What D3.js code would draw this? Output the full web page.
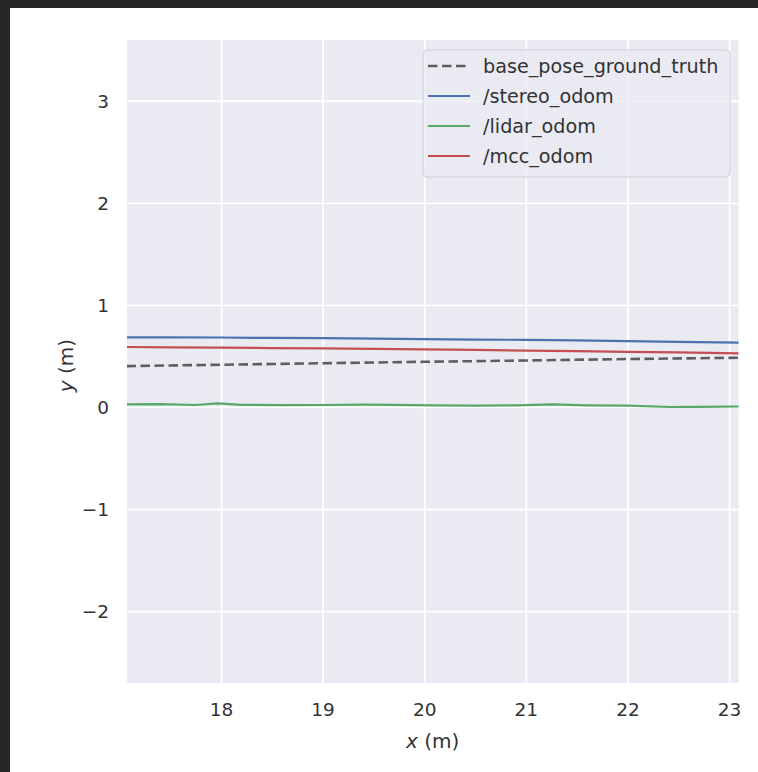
<!DOCTYPE html>
<html>
<head>
<meta charset="utf-8">
<script src="https://cdn.jsdelivr.net/npm/d3@7"></script>
<style>
  html, body { margin: 0; padding: 0; background: #262626; }
  svg { display: block; }
  text { font-family: "DejaVu Sans", sans-serif; fill: #333333; }
</style>
</head>
<body>
<svg id="chart" width="758" height="772"></svg>
<script>
// Axis ticks
const xTicks = [18, 19, 20, 21, 22, 23];
const yTicks = [-2, -1, 0, 1, 2, 3];

// Trajectories (x, y in metres)
const groundTruthX = [17.07, 18.0, 19.0, 20.0, 21.0, 22.0, 23.1];
const groundTruthY = [0.400, 0.413, 0.428, 0.442, 0.455, 0.469, 0.482];

const stereoX = [17.07, 17.5, 18.0, 18.5, 19.0, 19.5, 20.0, 20.5, 21.0, 21.5, 22.0, 22.5, 23.1];
const stereoY = [0.682, 0.681, 0.680, 0.676, 0.674, 0.670, 0.664, 0.660, 0.657, 0.652, 0.645, 0.638, 0.629];

const lidarX = [17.07, 17.4, 17.75, 17.97, 18.2, 18.6, 19.0, 19.4, 19.7, 20.1, 20.5, 20.9, 21.27, 21.6, 22.0, 22.42, 22.7, 23.1];
const lidarY = [0.025, 0.028, 0.019, 0.035, 0.020, 0.018, 0.019, 0.022, 0.020, 0.016, 0.012, 0.016, 0.025, 0.016, 0.012, -0.001, 0.000, 0.004];

const mccX = [17.07, 17.5, 18.0, 18.5, 19.0, 19.5, 20.0, 20.5, 21.0, 21.5, 22.0, 22.5, 23.1];
const mccY = [0.587, 0.584, 0.580, 0.577, 0.573, 0.569, 0.564, 0.558, 0.552, 0.546, 0.540, 0.534, 0.525];

const seriesNames = ["base_pose_ground_truth", "/stereo_odom", "/lidar_odom", "/mcc_odom"];
const seriesColors = ["#5e5e5e", "#4c72b0", "#55a868", "#c44e52"];
const seriesDash = ["9.5,4.5", null, null, null];
const seriesWidth = [2.6, 2.2, 2.2, 2.2];

const series = [
  { xs: groundTruthX, ys: groundTruthY },
  { xs: stereoX, ys: stereoY },
  { xs: lidarX, ys: lidarY },
  { xs: mccX, ys: mccY }
];

const svg = d3.select("#chart");
const W = 758, H = 772;

// Frame
svg.append("rect").attr("width", W).attr("height", H).attr("fill", "#262626");
svg.append("rect").attr("x", 10).attr("y", 8).attr("width", W - 10).attr("height", H - 8).attr("fill", "#ffffff");

const plot = { left: 127, right: 738.5, top: 40, bottom: 683 };

const x = d3.scaleLinear().domain([17.075, 23.093]).range([plot.left, plot.right]);
const y = d3.scaleLinear().domain([-2.705, 3.595]).range([plot.bottom, plot.top]);

// Axes background
svg.append("rect")
  .attr("x", plot.left).attr("y", plot.top)
  .attr("width", plot.right - plot.left).attr("height", plot.bottom - plot.top)
  .attr("fill", "#eaeaf2");

svg.append("defs").append("clipPath").attr("id", "clip")
  .append("rect")
  .attr("x", plot.left).attr("y", plot.top)
  .attr("width", plot.right - plot.left).attr("height", plot.bottom - plot.top);

// Grid via axes
const xAxis = d3.axisBottom(x).tickValues(xTicks)
  .tickSize(-(plot.bottom - plot.top)).tickPadding(18)
  .tickFormat(d3.format("d"));
const gx = svg.append("g").attr("transform", `translate(0,${plot.bottom})`).call(xAxis);
gx.select(".domain").remove();
gx.selectAll(".tick line").attr("stroke", "#ffffff").attr("stroke-width", 1.8);
gx.selectAll(".tick text").attr("font-size", 18.5).attr("fill", "#333333")
  .attr("dy", null).attr("y", 26).attr("dominant-baseline", "central");

const yAxis = d3.axisLeft(y).tickValues(yTicks)
  .tickSize(-(plot.right - plot.left)).tickPadding(18)
  .tickFormat(d => d < 0 ? "\u2212" + Math.abs(d) : String(d));
const gy = svg.append("g").attr("transform", `translate(${plot.left},0)`).call(yAxis);
gy.select(".domain").remove();
gy.selectAll(".tick line").attr("stroke", "#ffffff").attr("stroke-width", 1.8);
gy.selectAll(".tick text").attr("font-size", 18.5).attr("fill", "#333333")
  .attr("dy", null).attr("x", -18).attr("dominant-baseline", "central");

// Lines
const lineGen = d3.line().x(d => x(d[0])).y(d => y(d[1]));
const linesG = svg.append("g").attr("clip-path", "url(#clip)");
series.forEach((s, i) => {
  const pts = s.xs.map((v, k) => [v, s.ys[k]]);
  linesG.append("path")
    .datum(pts)
    .attr("d", lineGen)
    .attr("fill", "none")
    .attr("stroke", seriesColors[i])
    .attr("stroke-width", seriesWidth[i])
    .attr("stroke-dasharray", seriesDash[i])
    .attr("stroke-linejoin", "round");
});

// Axis labels
const xl = svg.append("text")
  .attr("x", (plot.left + plot.right) / 2).attr("y", 741)
  .attr("text-anchor", "middle").attr("dominant-baseline", "central")
  .attr("font-size", 20);
xl.append("tspan").attr("font-style", "italic").text("x");
xl.append("tspan").text(" (m)");

const yl = svg.append("text")
  .attr("transform", `translate(66,${(plot.top + plot.bottom) / 2 + 4}) rotate(-90)`)
  .attr("text-anchor", "middle").attr("dominant-baseline", "central")
  .attr("font-size", 20);
yl.append("tspan").attr("font-style", "italic").text("y");
yl.append("tspan").text(" (m)");

// Legend
const legend = svg.append("g");
legend.append("rect")
  .attr("x", 423).attr("y", 50).attr("width", 307).attr("height", 127)
  .attr("rx", 4).attr("ry", 4)
  .attr("fill", "#eaeaf2").attr("fill-opacity", 0.8)
  .attr("stroke", "#d0d0d8").attr("stroke-width", 1);

const rowY = d3.scaleLinear().domain([0, 3]).range([66, 156]);
seriesNames.forEach((name, i) => {
  const cy = rowY(i);
  legend.append("line")
    .attr("x1", 428).attr("x2", 470).attr("y1", cy).attr("y2", cy)
    .attr("stroke", seriesColors[i])
    .attr("stroke-width", seriesWidth[i])
    .attr("stroke-dasharray", seriesDash[i]);
  legend.append("text")
    .attr("x", 483).attr("y", cy)
    .attr("dominant-baseline", "central")
    .attr("font-size", 19.2)
    .text(name);
});
</script>
</body>
</html>
